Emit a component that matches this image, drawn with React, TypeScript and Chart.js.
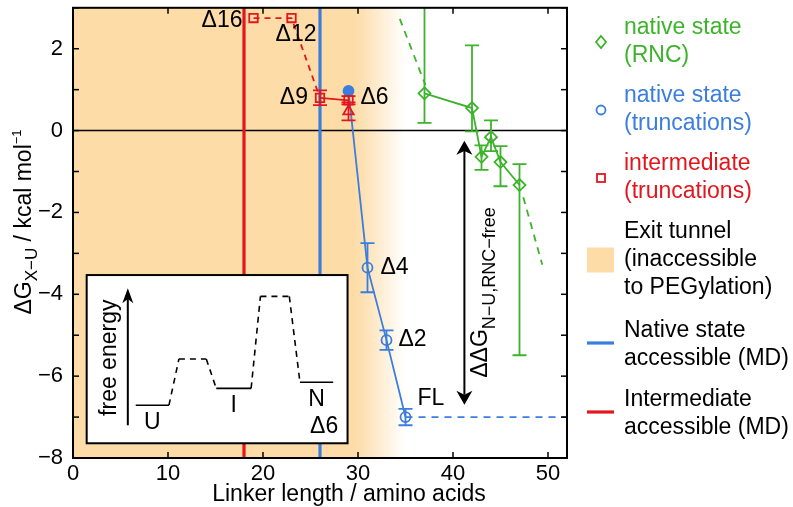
import React, { useEffect, useRef } from 'react';
import { Chart, registerables } from 'chart.js';

Chart.register(...registerables);

const FONT = '"Liberation Sans", Arial, Helvetica, sans-serif';
const GREEN = '#3DB32C';
const BLUE = '#3B7EDD';
const RED = '#E3161C';
const ORANGE = '#FDDCA8';
const ORANGE_0 = 'rgba(253,220,168,0)';

// ---------- data ----------
// native state, ribosome-nascent chains (RNC)
const rncX = [37, 42, 43, 44, 45, 47];
const rncY = [0.91, 0.55, -0.64, -0.16, -0.77, -1.33];
const rncLow = [0.19, -0.02, -0.96, -0.5, -1.36, -5.49];
const rncHigh = [3.3, 2.08, -0.36, 0.25, -0.38, -0.82];
// dashed fit segments for RNC
const rncFitUpperX = [34.4, 37.1];
const rncFitUpperY = [2.73, 1.11];
const rncFitLowerX = [47.4, 49.4];
const rncFitLowerY = [-1.63, -3.28];

// native state, truncations
const nativeX = [29, 31, 33, 35];
const nativeY = [0.97, -3.35, -5.12, -7.0];
const nativeErr = [0, 0.6, 0.24, 0.2];
const nativeLabels = ['Δ6', 'Δ4', 'Δ2', 'FL'];
// full-length reference extension
const flLineX = [35, 52];
const flLineY = [-7.0, -7.0];

// intermediate, truncations
const interX = [19, 23, 26, 29];
const interY = [2.75, 2.75, 0.8, 0.74];
const interErr = [0, 0, 0.18, 0.1];
const interLabels = ['Δ16', 'Δ12', 'Δ9', ''];
// intermediate Δ6 (triangle)
const triX = [29];
const triY = [0.47];
const triErr = [0.22];

// exit tunnel shading: solid start, solid end, fade end
const exitTunnel = [0, 29.8, 35];
// MD accessibility lines
const intermediateMD = 18;
const nativeMD = 26;
// ΔΔG arrow (x, y-top, y-bottom)
const ddgArrowX = 41.2;
const ddgArrowY = [-0.25, -6.7];
const ddgLabelPos = [43.55, -6.04];

// inset: free energy schematic
const insetBoxX = [1.44, 28.9];
const insetBoxY = [-3.53, -7.64];
const insetStateLabels = ['U', '', 'I', '', 'N'];
const insetLevelX0 = [6.6, 11.15, 15.08, 19.73, 23.89];
const insetLevelX1 = [10.1, 14.03, 18.75, 22.77, 27.39];
const insetLevelY = [-6.71, -5.58, -6.3, -4.05, -6.15];
const insetArrowX = 5.77;
const insetArrowY = [-7.2, -3.85];
const insetAxisLabelPos = [3.67, -5.55];
const insetNameLabel = 'Δ6';
const insetNamePos = [26.44, -7.24];

// ---------- helpers ----------
const pts = (xs: number[], ys: number[]) => xs.map((x, i) => ({ x, y: ys[i] }));
const fmt = (v: number) => (v < 0 ? '−' + Math.abs(v) : String(v));

type Run = { t: string; size: number; dy: number };
function runsWidth(ctx: CanvasRenderingContext2D, runs: Run[]) {
  let w = 0;
  for (const r of runs) {
    ctx.font = `${r.size}px ${FONT}`;
    w += ctx.measureText(r.t).width;
  }
  return w;
}
function drawRuns(ctx: CanvasRenderingContext2D, runs: Run[], x: number, y: number, rotate: boolean, align: 'start' | 'center') {
  ctx.save();
  ctx.translate(x, y);
  if (rotate) ctx.rotate(-Math.PI / 2);
  ctx.textAlign = 'left';
  ctx.textBaseline = 'alphabetic';
  let cx = align === 'center' ? -runsWidth(ctx, runs) / 2 : 0;
  for (const r of runs) {
    ctx.font = `${r.size}px ${FONT}`;
    ctx.fillText(r.t, cx, r.dy);
    cx += ctx.measureText(r.t).width;
  }
  ctx.restore();
}
function line(ctx: CanvasRenderingContext2D, x1: number, y1: number, x2: number, y2: number) {
  ctx.beginPath();
  ctx.moveTo(x1, y1);
  ctx.lineTo(x2, y2);
  ctx.stroke();
}
function arrowHead(ctx: CanvasRenderingContext2D, x: number, y: number, dir: number, w: number, h: number) {
  // dir = -1 pointing up, +1 pointing down; tip at (x,y)
  ctx.beginPath();
  ctx.moveTo(x, y);
  ctx.lineTo(x - w / 2, y - dir * h);
  ctx.lineTo(x, y - dir * h * 0.72);
  ctx.lineTo(x + w / 2, y - dir * h);
  ctx.closePath();
  ctx.fill();
}

const bgPlugin = {
  id: 'bg',
  beforeDatasetsDraw(chart: any) {
    const { ctx, chartArea: a } = chart;
    const X = (v: number) => chart.scales.x.getPixelForValue(v);
    const Y = (v: number) => chart.scales.y.getPixelForValue(v);
    ctx.save();
    ctx.beginPath();
    ctx.rect(a.left, a.top, a.right - a.left, a.bottom - a.top);
    ctx.clip();
    const t0 = X(exitTunnel[0]), t1 = X(exitTunnel[1]), t2 = X(exitTunnel[2]);
    ctx.fillStyle = ORANGE;
    ctx.fillRect(t0, a.top, t1 - t0, a.bottom - a.top);
    const g = ctx.createLinearGradient(t1, 0, t2, 0);
    g.addColorStop(0, ORANGE);
    g.addColorStop(1, ORANGE_0);
    ctx.fillStyle = g;
    ctx.fillRect(t1, a.top, t2 - t1, a.bottom - a.top);

    ctx.strokeStyle = '#000';
    ctx.lineWidth = 1.5;
    line(ctx, a.left, Y(0), a.right, Y(0));

    ctx.lineWidth = 3.2;
    ctx.strokeStyle = RED;
    line(ctx, X(intermediateMD), a.top, X(intermediateMD), a.bottom);
    ctx.strokeStyle = BLUE;
    line(ctx, X(nativeMD), a.top, X(nativeMD), a.bottom);

    // inset
    const ix0 = X(insetBoxX[0]), ix1 = X(insetBoxX[1]);
    const iy0 = Y(insetBoxY[0]), iy1 = Y(insetBoxY[1]);
    ctx.fillStyle = '#fff';
    ctx.fillRect(ix0, iy0, ix1 - ix0, iy1 - iy0);
    ctx.strokeStyle = '#000';
    ctx.lineWidth = 2;
    ctx.strokeRect(ix0, iy0, ix1 - ix0, iy1 - iy0);

    const ax = X(insetArrowX), ab = Y(insetArrowY[0]), at = Y(insetArrowY[1]);
    ctx.fillStyle = '#000';
    ctx.lineWidth = 2;
    line(ctx, ax, ab, ax, at + 8);
    arrowHead(ctx, ax, at, -1, 11, 15);

    ctx.lineWidth = 1.6;
    for (let i = 0; i < insetLevelY.length; i++) {
      ctx.setLineDash(insetStateLabels[i] ? [] : [6, 5]);
      line(ctx, X(insetLevelX0[i]), Y(insetLevelY[i]), X(insetLevelX1[i]), Y(insetLevelY[i]));
      if (i < insetLevelY.length - 1) {
        ctx.setLineDash([6, 5]);
        line(ctx, X(insetLevelX1[i]), Y(insetLevelY[i]), X(insetLevelX0[i + 1]), Y(insetLevelY[i + 1]));
      }
    }
    ctx.setLineDash([]);
    ctx.font = `23px ${FONT}`;
    ctx.textAlign = 'center';
    ctx.textBaseline = 'middle';
    for (let i = 0; i < insetLevelY.length; i++) {
      if (!insetStateLabels[i]) continue;
      ctx.fillText(insetStateLabels[i], (X(insetLevelX0[i]) + X(insetLevelX1[i])) / 2, Y(insetLevelY[i]) + 17);
    }
    ctx.fillText(insetNameLabel, X(insetNamePos[0]), Y(insetNamePos[1]));
    ctx.save();
    ctx.translate(X(insetAxisLabelPos[0]) + 2, Y(insetAxisLabelPos[1]));
    ctx.rotate(-Math.PI / 2);
    ctx.fillText('free energy', 0, 0);
    ctx.restore();

    ctx.restore();
  },
};

const overlayPlugin = {
  id: 'overlay',
  afterDatasetsDraw(chart: any) {
    const { ctx, chartArea: a } = chart;
    const X = (v: number) => chart.scales.x.getPixelForValue(v);
    const Y = (v: number) => chart.scales.y.getPixelForValue(v);
    ctx.save();
    ctx.beginPath();
    ctx.rect(a.left, a.top, a.right - a.left, a.bottom - a.top);
    ctx.clip();
    // error bars
    chart.data.datasets.forEach((ds: any, di: number) => {
      if (!ds.errLow) return;
      const meta = chart.getDatasetMeta(di);
      ctx.strokeStyle = ds.borderColor;
      ctx.lineWidth = 1.8;
      meta.data.forEach((p: any, i: number) => {
        const lo = ds.errLow[i], hi = ds.errHigh[i];
        if (lo == null || hi == null || lo === hi) return;
        const y1 = Y(lo), y2 = Y(hi);
        line(ctx, p.x, y1, p.x, y2);
        line(ctx, p.x - 7, y1, p.x + 7, y1);
        line(ctx, p.x - 7, y2, p.x + 7, y2);
      });
    });
    // ΔΔG double arrow
    const dx = X(ddgArrowX), dt = Y(ddgArrowY[0]), db = Y(ddgArrowY[1]);
    ctx.strokeStyle = '#000';
    ctx.fillStyle = '#000';
    ctx.lineWidth = 2;
    line(ctx, dx, dt + 10, dx, db - 10);
    arrowHead(ctx, dx, dt, -1, 16, 14);
    arrowHead(ctx, dx, db, 1, 16, 14);
    ctx.restore();

    // ΔΔG label
    ctx.save();
    ctx.fillStyle = '#000';
    drawRuns(
      ctx,
      [
        { t: 'ΔΔG', size: 23, dy: 0 },
        { t: 'N−U,RNC−free', size: 18, dy: 8 },
      ],
      X(ddgLabelPos[0]),
      Y(ddgLabelPos[1]),
      true,
      'start'
    );
    // point labels
    ctx.font = `23px ${FONT}`;
    ctx.textBaseline = 'middle';
    const interOff = [
      [-11, 3, 'right'],
      [25, 17, 'right'],
      [-12, 0, 'right'],
      [0, 0, 'left'],
    ];
    const natOff = [
      [12, 7, 'left'],
      [13, 0, 'left'],
      [12, 0, 'left'],
      [12, -18, 'left'],
    ];
    interLabels.forEach((t, i) => {
      if (!t) return;
      const o = interOff[i];
      ctx.textAlign = o[2];
      ctx.fillText(t, X(interX[i]) + (o[0] as number), Y(interY[i]) + (o[1] as number));
    });
    nativeLabels.forEach((t, i) => {
      if (!t) return;
      const o = natOff[i];
      ctx.textAlign = o[2];
      ctx.fillText(t, X(nativeX[i]) + (o[0] as number), Y(nativeY[i]) + (o[1] as number));
    });
    ctx.restore();
  },
  afterDraw(chart: any) {
    const { ctx, chartArea: a } = chart;
    const xs = chart.scales.x, ys = chart.scales.y;
    ctx.save();
    ctx.strokeStyle = '#000';
    ctx.lineWidth = 1.5;
    xs.ticks.forEach((t: any) => {
      const p = xs.getPixelForValue(t.value);
      line(ctx, p, a.bottom, p, a.bottom - 6);
      line(ctx, p, a.top, p, a.top + 6);
    });
    ys.ticks.forEach((t: any) => {
      const p = ys.getPixelForValue(t.value);
      line(ctx, a.left, p, a.left + 6, p);
      line(ctx, a.right, p, a.right - 6, p);
    });
    ctx.lineWidth = 2;
    ctx.strokeRect(a.left, a.top, a.right - a.left, a.bottom - a.top);

    // axis titles
    ctx.fillStyle = '#000';
    ctx.font = `23px ${FONT}`;
    ctx.textAlign = 'center';
    ctx.textBaseline = 'alphabetic';
    ctx.fillText('Linker length / amino acids', 349, 501);
    drawRuns(
      ctx,
      [
        { t: 'ΔG', size: 23, dy: 0 },
        { t: 'X−U', size: 17, dy: 6 },
        { t: ' / kcal mol', size: 23, dy: 0 },
        { t: '−1', size: 13, dy: -10 },
      ],
      31,
      222,
      true,
      'center'
    );

    // legend
    const items = [
      { lines: ['native state', '(RNC)'], color: GREEN, mark: 'diamond', y: 28 },
      { lines: ['native state', '(truncations)'], color: BLUE, mark: 'circle', y: 96 },
      { lines: ['intermediate', '(truncations)'], color: RED, mark: 'square', y: 164 },
      { lines: ['Exit tunnel', '(inaccessible', 'to PEGylation)'], color: '#000', mark: 'swatch', y: 232 },
      { lines: ['Native state', 'accessible (MD)'], color: '#000', mark: 'blue', y: 331 },
      { lines: ['Intermediate', 'accessible (MD)'], color: '#000', mark: 'red', y: 400 },
    ];
    const gap = 28;
    const mx = 601, tx = 624;
    ctx.font = `23px ${FONT}`;
    ctx.textAlign = 'left';
    ctx.textBaseline = 'middle';
    items.forEach((it) => {
      ctx.fillStyle = it.color;
      it.lines.forEach((l, k) => ctx.fillText(l, tx, it.y + k * gap));
      const my = it.y + ((it.lines.length - 1) * gap) / 2;
      ctx.lineWidth = 1.8;
      if (it.mark === 'diamond') {
        ctx.strokeStyle = GREEN;
        ctx.beginPath();
        ctx.moveTo(mx, my - 6);
        ctx.lineTo(mx + 5, my);
        ctx.lineTo(mx, my + 6);
        ctx.lineTo(mx - 5, my);
        ctx.closePath();
        ctx.stroke();
      } else if (it.mark === 'circle') {
        ctx.strokeStyle = BLUE;
        ctx.beginPath();
        ctx.arc(mx, my, 4.5, 0, Math.PI * 2);
        ctx.stroke();
      } else if (it.mark === 'square') {
        ctx.strokeStyle = RED;
        ctx.strokeRect(mx - 4, my - 4, 8, 8);
      } else if (it.mark === 'swatch') {
        ctx.fillStyle = ORANGE;
        ctx.fillRect(587, my - 12.5, 27, 25);
      } else {
        ctx.strokeStyle = it.mark === 'blue' ? BLUE : RED;
        ctx.lineWidth = 3.2;
        line(ctx, 587, my - 2, 614, my - 2);
      }
    });
    ctx.restore();
  },
};

export default function App() {
  const ref = useRef<HTMLCanvasElement>(null);
  useEffect(() => {
    const transparent = 'rgba(0,0,0,0)';
    const chart = new Chart(ref.current as HTMLCanvasElement, {
      type: 'line',
      data: {
        datasets: [
          {
            label: 'intermediate (truncations)',
            data: pts(interX, interY),
            borderColor: RED,
            borderWidth: 1.8,
            pointStyle: 'rect',
            pointRadius: 6,
            pointBorderWidth: 1.8,
            pointBorderColor: RED,
            pointBackgroundColor: transparent,
            segment: { borderDash: (c: any) => (c.p0DataIndex < 2 ? [6, 5] : undefined) },
            errLow: interY.map((v, i) => v - interErr[i]),
            errHigh: interY.map((v, i) => v + interErr[i]),
          } as any,
          {
            label: 'intermediate Δ6',
            data: pts(triX, triY),
            borderColor: RED,
            showLine: false,
            pointStyle: 'triangle',
            pointRadius: 6,
            pointBorderWidth: 1.8,
            pointBorderColor: RED,
            pointBackgroundColor: transparent,
            errLow: triY.map((v, i) => v - triErr[i]),
            errHigh: triY.map((v, i) => v + triErr[i]),
          } as any,
          {
            label: 'native state (truncations)',
            data: pts(nativeX, nativeY),
            borderColor: BLUE,
            borderWidth: 1.8,
            pointStyle: 'circle',
            pointRadius: 5,
            pointBorderWidth: 1.8,
            pointBorderColor: BLUE,
            pointBackgroundColor: nativeX.map((_, i) => (i === 0 ? BLUE : transparent)),
            errLow: nativeY.map((v, i) => v - nativeErr[i]),
            errHigh: nativeY.map((v, i) => v + nativeErr[i]),
          } as any,
          {
            label: 'FL',
            data: pts(flLineX, flLineY),
            borderColor: BLUE,
            borderWidth: 1.8,
            borderDash: [7, 6],
            pointRadius: 0,
          },
          {
            label: 'native state (RNC)',
            data: pts(rncX, rncY),
            borderColor: GREEN,
            borderWidth: 1.8,
            pointStyle: 'rectRot',
            pointRadius: 6,
            pointBorderWidth: 1.8,
            pointBorderColor: GREEN,
            pointBackgroundColor: transparent,
            errLow: rncLow,
            errHigh: rncHigh,
          } as any,
          {
            label: 'RNC fit upper',
            data: pts(rncFitUpperX, rncFitUpperY),
            borderColor: GREEN,
            borderWidth: 1.8,
            borderDash: [7, 6],
            pointRadius: 0,
          },
          {
            label: 'RNC fit lower',
            data: pts(rncFitLowerX, rncFitLowerY),
            borderColor: GREEN,
            borderWidth: 1.8,
            borderDash: [7, 6],
            pointRadius: 0,
          },
        ],
      },
      options: {
        responsive: false,
        animation: false,
        devicePixelRatio: 1,
        layout: { padding: { left: 0, right: 226, top: 4, bottom: 0 } },
        plugins: { legend: { display: false }, tooltip: { enabled: false } },
        elements: { line: { tension: 0, fill: false } },
        scales: {
          x: {
            type: 'linear',
            min: 0,
            max: 52,
            grid: { display: false, drawTicks: false },
            border: { display: false },
            ticks: {
              stepSize: 10,
              includeBounds: false,
              autoSkip: false,
              maxRotation: 0,
              padding: 3,
              color: '#000',
              font: { family: FONT, size: 22 },
              callback: (v: any) => fmt(Number(v)),
            },
            afterFit: (s: any) => {
              s.height = 49;
              s.paddingLeft = 0;
              s.paddingRight = 0;
            },
          },
          y: {
            type: 'linear',
            min: -8,
            max: 3,
            grid: { display: false, drawTicks: false },
            border: { display: false },
            ticks: {
              stepSize: 1,
              autoSkip: false,
              padding: 10,
              color: '#000',
              font: { family: FONT, size: 22 },
              callback: (v: any) => {
                const n = Math.round(Number(v));
                return n % 2 === 0 ? fmt(n) : '';
              },
            },
            afterFit: (s: any) => {
              s.width = 73;
              s.paddingTop = 0;
              s.paddingBottom = 0;
            },
          },
        },
      } as any,
      plugins: [bgPlugin, overlayPlugin],
    });
    return () => chart.destroy();
  }, []);
  return (
    <div style={{ position: 'fixed', left: 0, top: 0, width: 793, height: 507, background: '#fff' }}>
      <canvas ref={ref} width={793} height={507} style={{ width: 793, height: 507, display: 'block' }} />
    </div>
  );
}
